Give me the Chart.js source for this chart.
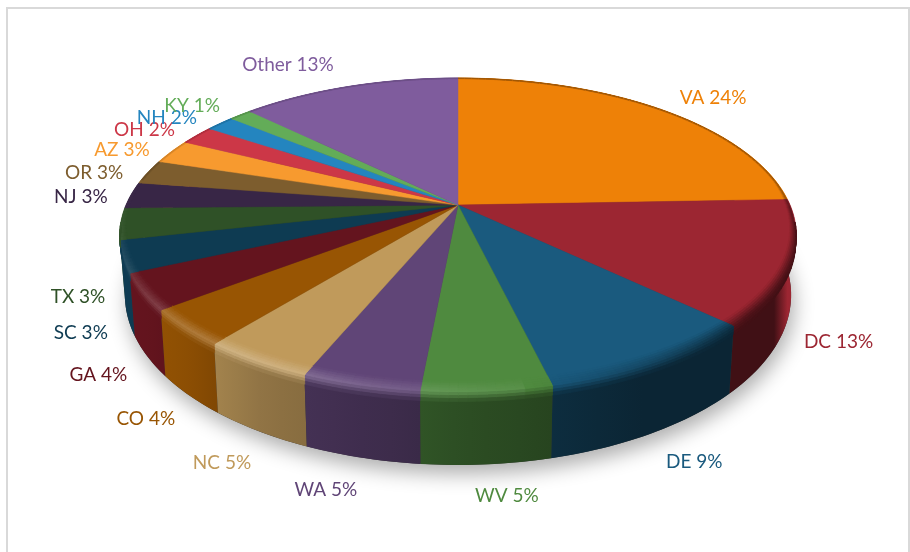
<!DOCTYPE html>
<html>
<head>
<meta charset="utf-8">
<style>
  html, body { margin: 0; background: #fff; }
  canvas { display: block; }
</style>
<script src="https://cdn.jsdelivr.net/npm/chart.js@4"></script>
</head>
<body>
<canvas id="states-pie" width="910" height="552"></canvas>
<script>
const states = ['VA', 'DC', 'DE', 'WV', 'WA', 'NC', 'CO', 'GA', 'SC', 'TX', 'NJ', 'OR', 'AZ', 'OH', 'NH', 'KY', 'Other'];
const shares = [24.4, 12.8, 9.06, 5.2, 4.74, 4.52, 3.76, 3.7, 3.25, 3.25, 2.7, 2.52, 2.52, 2.0, 1.65, 1.3, 12.6];
const sliceColors = ['#ee8107', '#9c2632', '#1a5a7e', '#4f8a3f', '#604577', '#c09a5b', '#985503', '#64141e', '#0e3b52', '#2f5127', '#382646', '#7d5d2e', '#f79a2f', '#cc3747', '#2485bf', '#63ac58', '#7f5c9d'];
// small shifts of each label from its computed spot
const labelNudge = [[29, 2], [21, 10], [25, 13], [18, 14], [-28, 15], [-20, 16], [-19, 11], [-20, 9], [-15, 9], [-14, 12], [-16, 3], [-21, 5], [-18, 5], [-23, 4], [-26, 5], [-23, 3], [-48, -5]];

const tilt = 0.191;

function rgb(hex) {
  return [1, 3, 5].map(i => parseInt(hex.slice(i, i + 2), 16));
}
function mix(a, b, t) {
  return a.map((c, i) => c + (b[i] - c) * t);
}
function css(c) {
  return 'rgb(' + c.map(Math.round).join(',') + ')';
}
function ramp(x, stops) {
  if (x <= stops[0][0]) return stops[0][1];
  for (let i = 1; i < stops.length; i++) {
    if (x <= stops[i][0]) {
      const t = (x - stops[i - 1][0]) / (stops[i][0] - stops[i - 1][0]);
      return stops[i - 1][1] + (stops[i][1] - stops[i - 1][1]) * t;
    }
  }
  return stops[stops.length - 1][1];
}

function wallShade(deg) {
  return ramp(deg, [[60, 0.41], [85, 0.54], [104, 0.66], [120, 0.75], [135, 0.92], [150, 1]]);
}
function rimLight(deg) {
  return 0.24 * Math.exp(-Math.pow((deg - 125) / 38, 2));
}
function rimDark(deg) {
  if (deg <= 80) return 0.5 * Math.min(1, (80 - deg) / 40);
  if (deg >= 270) return 0.45;
  if (deg >= 190) return 0.2;
  return 0;
}

const pie3d = {
  id: 'pie3d',
  beforeDraw(chart) {
    const ctx = chart.ctx;
    ctx.save();
    ctx.strokeStyle = '#d9d9d9';
    ctx.lineWidth = 2;
    ctx.beginPath();
    ctx.moveTo(7, 552);
    ctx.lineTo(7, 8);
    ctx.lineTo(909, 8);
    ctx.lineTo(909, 552);
    ctx.stroke();
    ctx.restore();
  },
  beforeDatasetsDraw(chart) {
    const ctx = chart.ctx;
    const arcs = chart.getDatasetMeta(0).data;
    const first = arcs[0];
    const cx = first.x, cy = first.y, rad = first.outerRadius;
    const total = shares.reduce((a, b) => a + b, 0);

    // perspective view of the disc, d = 0 on the top face, d = 1 on the bottom one
    const pt = (a, r, d) => {
      const u = r * Math.cos(a), v = r * Math.sin(a), w = 1 - tilt * v;
      const xt = 1.62 * u / w, yt = 0.738 * v / w;
      const xb = 1.595 * u / w, yb = 0.2805 + 0.799 * v / w;
      return [cx + rad * (xt + (xb - xt) * d), cy + rad * (yt + (yb - yt) * d)];
    };
    const tracePoly = pts => {
      ctx.beginPath();
      pts.forEach((p, i) => i ? ctx.lineTo(p[0], p[1]) : ctx.moveTo(p[0], p[1]));
      ctx.closePath();
    };
    const fillPoly = (pts, color, edge) => {
      tracePoly(pts);
      ctx.fillStyle = color;
      ctx.fill();
      ctx.strokeStyle = color;
      ctx.lineWidth = edge;
      ctx.stroke();
    };
    const deg = a => ((a * 180 / Math.PI) % 360 + 360) % 360;

    // soft shadow under the bottom disc
    ctx.save();
    ctx.shadowColor = 'rgba(0,0,0,0.32)';
    ctx.shadowBlur = 20;
    ctx.shadowOffsetX = 3;
    ctx.shadowOffsetY = 9;
    const ring = [];
    for (let i = 0; i < 180; i++) ring.push(pt(i * Math.PI / 90, 1, 1));
    tracePoly(ring);
    ctx.fillStyle = '#333';
    ctx.fill();
    ctx.restore();

    // side wall, one shape per slice, back to front
    arcs.map((arc, i) => ({ arc, i }))
      .sort((p, q) => Math.sin((p.arc.startAngle + p.arc.endAngle) / 2) - Math.sin((q.arc.startAngle + q.arc.endAngle) / 2))
      .forEach(({ arc, i }) => {
        const base = rgb(sliceColors[i]);
        const n = Math.ceil((arc.endAngle - arc.startAngle) / 0.02);
        const upper = [], lower = [];
        for (let j = 0; j <= n; j++) {
          const a = arc.startAngle + (arc.endAngle - arc.startAngle) * j / n;
          upper.push(pt(a, 1, 0));
          lower.push(pt(a, 1, 1));
        }
        const grad = ctx.createLinearGradient(upper[0][0], 0, upper[n][0] + 0.01, 0);
        for (let s = 0; s <= 4; s++) {
          const a = arc.startAngle + (arc.endAngle - arc.startAngle) * s / 4;
          grad.addColorStop(s / 4, css(mix([0, 0, 0], base, wallShade(deg(a)))));
        }
        tracePoly(upper.concat(lower.reverse()));
        ctx.fillStyle = grad;
        ctx.fill();
      });

    // top face
    arcs.forEach((arc, i) => {
      const pts = [[cx, cy]];
      const n = Math.ceil((arc.endAngle - arc.startAngle) / 0.02);
      for (let j = 0; j <= n; j++) {
        pts.push(pt(arc.startAngle + (arc.endAngle - arc.startAngle) * j / n, 1, 0));
      }
      fillPoly(pts, sliceColors[i], 0.5);
    });

    // rounded rim between the top face and the wall, cut into short pieces
    const bands = 8;
    arcs.forEach((arc, i) => {
      const base = rgb(sliceColors[i]);
      const n = Math.max(2, Math.ceil((arc.endAngle - arc.startAngle) / 0.025));
      for (let j = 0; j < n; j++) {
        const a0 = arc.startAngle + (arc.endAngle - arc.startAngle) * j / n;
        const a1 = arc.startAngle + (arc.endAngle - arc.startAngle) * (j + 1) / n;
        const mid = (a0 + a1) / 2;
        const d = deg(mid);
        const wall = mix([0, 0, 0], base, wallShade(d));
        const edge = rimDark(d) === 0 ? mix(base, [255, 255, 255], rimLight(d)) : mix(base, [0, 0, 0], rimDark(d));
        const width = 0.008 + 0.034 * Math.max(0, Math.sin(mid) + 0.15);
        const place = (a, s) => s < 0.6
          ? pt(a, 1 - width * (1 - s / 0.6), 0)
          : pt(a, 1, (s - 0.6) / 0.4 * 0.13);
        for (let b = 0; b < bands; b++) {
          const s0 = b / bands, s1 = (b + 1) / bands, s = (s0 + s1) / 2;
          if (s1 > 0.6 && Math.sin(mid) < 0.1) continue;
          const col = s < 0.6 ? mix(base, edge, s / 0.6) : mix(edge, wall, (s - 0.6) / 0.4);
          fillPoly([place(a0, s0), place(a1, s0), place(a1, s1), place(a0, s1)], css(col), 0.8);
        }
      }
    });

    // labels
    ctx.font = '19px Lato';
    ctx.textAlign = 'center';
    ctx.textBaseline = 'middle';
    arcs.forEach((arc, i) => {
      const mid = (arc.startAngle + arc.endAngle) / 2;
      const front = Math.sin(mid) > 0;
      const p = pt(mid, 1, front ? 1 : 0);
      const x = p[0] + Math.cos(mid) * 34 + labelNudge[i][0];
      const y = p[1] + Math.sin(mid) * 18 + labelNudge[i][1];
      ctx.fillStyle = sliceColors[i];
      ctx.fillText(states[i] + ' ' + Math.round(shares[i] / total * 100) + '%', x, y);
    });
    return false;
  }
};

new Chart(document.getElementById('states-pie').getContext('2d'), {
  type: 'pie',
  data: {
    labels: states,
    datasets: [{
      data: shares,
      backgroundColor: sliceColors,
      borderWidth: 0
    }]
  },
  options: {
    responsive: false,
    animation: false,
    layout: {
      padding: { left: 6, right: 0, top: 0, bottom: 142 }
    },
    plugins: {
      legend: { display: false },
      tooltip: { enabled: false }
    }
  },
  plugins: [pie3d]
});
</script>
</body>
</html>
